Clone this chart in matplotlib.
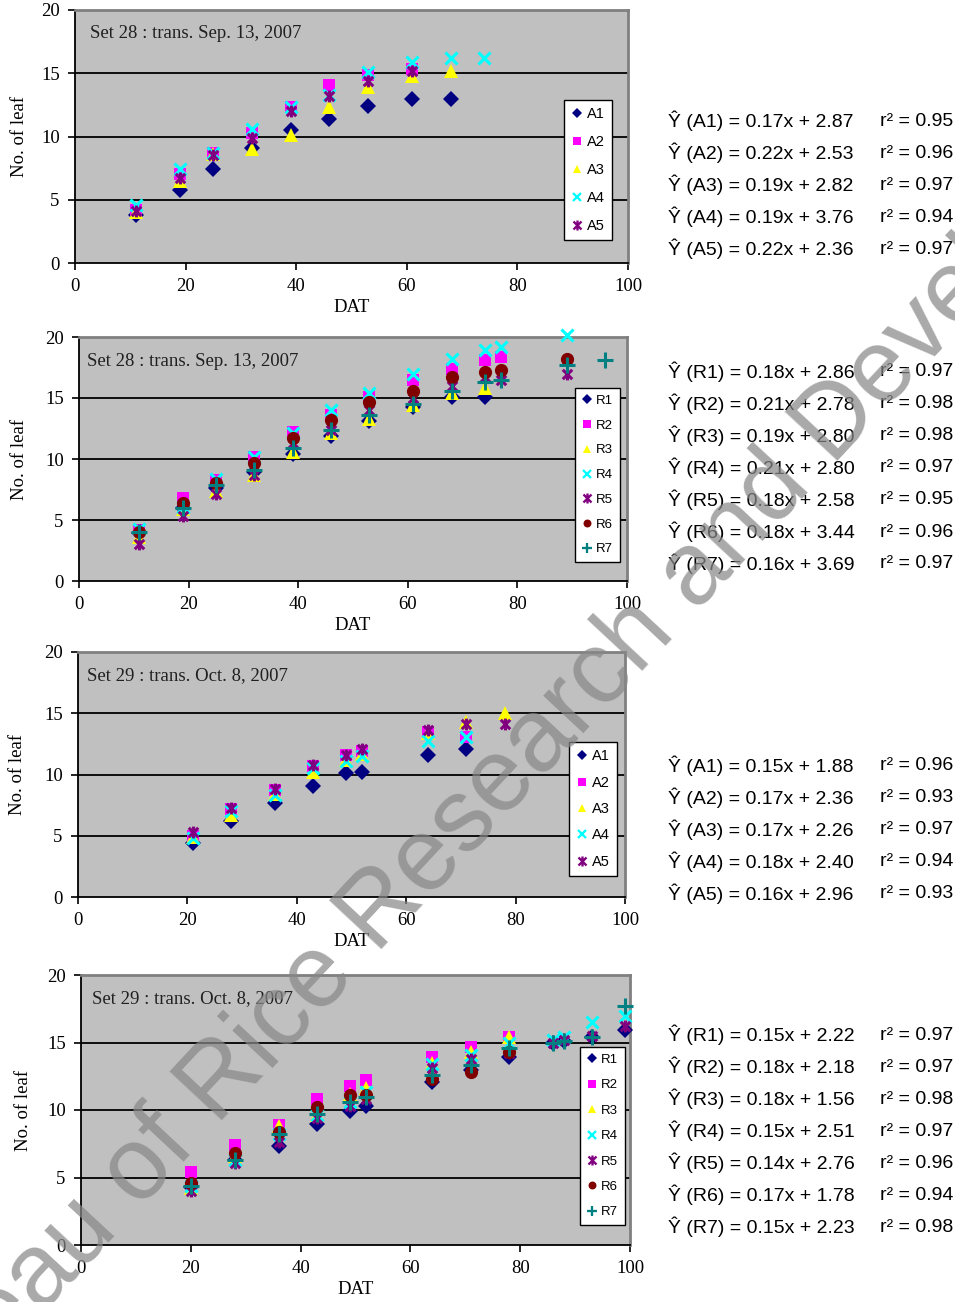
import numpy as np
import matplotlib
matplotlib.use('Agg')
import matplotlib.pyplot as plt
from matplotlib.path import Path
from matplotlib.lines import Line2D

nan = np.nan

## The Data ..
# Set 28, A series
s28a_x = [11, 19, 25, 32, 39, 46, 53, 61, 68, 74]
s28a_A1 = [3.8, 5.8, 7.4, 9.1, 10.5, 11.4, 12.4, 13.0, 13.0, nan]
s28a_A2 = [4.2, 7.0, 8.7, 10.3, 12.3, 14.1, 14.9, 15.3, nan, nan]
s28a_A3 = [4.0, 6.5, 8.6, 9.0, 10.1, 12.3, 13.9, 14.8, 15.2, nan]
s28a_A4 = [4.6, 7.4, 8.7, 10.6, 12.3, 13.3, 15.1, 15.9, 16.2, 16.2]
s28a_A5 = [4.1, 6.7, 8.5, 9.9, 12.0, 13.2, 14.4, 15.2, nan, nan]

# Set 28, R series
s28r_x = [11, 19, 25, 32, 39, 46, 53, 61, 68, 74, 77, 89, 96]
s28r_R1 = [3.9, 6.0, 7.6, 8.9, 10.4, 11.9, 13.1, 14.3, 15.1, 15.1, nan, nan, nan]
s28r_R2 = [4.2, 6.8, 8.3, 10.2, 12.2, 13.6, 15.1, 16.5, 17.4, 18.1, 18.4, nan, nan]
s28r_R3 = [3.6, 5.9, 7.4, 8.7, 10.6, 12.1, 13.3, 14.4, 15.4, 15.8, nan, nan, nan]
s28r_R4 = [4.3, 6.1, 8.4, 10.2, 12.1, 14.0, 15.4, 17.0, 18.2, 18.9, 19.2, 20.2, nan]
s28r_R5 = [3.0, 5.3, 7.1, 8.7, 11.3, 12.4, 14.0, 15.0, 16.0, 16.7, 16.5, 17.0, nan]
s28r_R6 = [4.0, 6.4, 8.0, 9.7, 11.7, 13.2, 14.7, 15.6, 16.7, 17.1, 17.3, 18.2, nan]
s28r_R7 = [4.0, 6.0, 7.9, 9.1, 10.9, 12.4, 13.6, 14.5, 15.6, 16.3, 16.5, 17.7, 18.1]

# Set 29, A series
s29a_x = [21, 28, 36, 43, 49, 52, 64, 71, 78]
s29a_A1 = [4.4, 6.2, 7.7, 9.1, 10.1, 10.2, 11.6, 12.1, nan]
s29a_A2 = [5.0, 7.2, 8.7, 10.7, 11.6, 11.9, 13.5, 13.1, nan]
s29a_A3 = [4.9, 6.7, 8.4, 10.2, 11.2, 11.7, 13.4, 14.3, 15.0]
s29a_A4 = [4.8, 7.0, 8.3, 10.5, 11.1, 11.5, 12.7, 13.1, nan]
s29a_A5 = [5.3, 7.3, 8.8, 10.8, 11.6, 12.1, 13.6, 14.1, 14.1]

# Set 29, R series
s29r_x = [20, 28, 36, 43, 49, 52, 64, 71, 78, 86, 88, 93, 99]
s29r_R1 = [4.3, 6.3, 7.3, 9.0, 9.9, 10.3, 12.1, 13.0, 13.9, 15.0, 15.1, 15.4, 15.9]
s29r_R2 = [5.4, 7.4, 8.9, 10.8, 11.8, 12.2, 13.9, 14.7, 15.4, nan, nan, nan, nan]
s29r_R3 = [4.2, 6.6, 8.8, 9.6, 11.2, 11.6, 13.5, 14.3, 15.4, nan, nan, nan, nan]
s29r_R4 = [4.4, 6.3, 8.2, 9.6, 10.6, 11.3, 13.4, 14.1, 15.0, 15.2, 15.4, 16.5, 17.0]
s29r_R5 = [4.0, 6.1, 7.6, 9.4, 10.3, 10.8, 13.1, 13.8, 14.2, 15.0, 15.2, 15.5, 16.2]
s29r_R6 = [4.6, 6.8, 8.4, 10.2, 11.1, 11.1, 12.3, 12.8, 14.3, nan, nan, nan, nan]
s29r_R7 = [4.4, 6.3, 8.2, 9.7, 10.6, 11.0, 12.6, 13.3, 14.6, 15.0, 15.1, 15.4, 17.7]

titles = ['Set 28 : trans. Sep. 13, 2007', 'Set 28 : trans. Sep. 13, 2007',
          'Set 29 : trans. Oct. 8, 2007', 'Set 29 : trans. Oct. 8, 2007']

eq_28a = ['(A1) = 0.17x + 2.87', '(A2) = 0.22x + 2.53', '(A3) = 0.19x + 2.82',
          '(A4) = 0.19x + 3.76', '(A5) = 0.22x + 2.36']
r2_28a = ['0.95', '0.96', '0.97', '0.94', '0.97']
eq_28r = ['(R1) = 0.18x + 2.86', '(R2) = 0.21x + 2.78', '(R3) = 0.19x + 2.80',
          '(R4) = 0.21x + 2.80', '(R5) = 0.18x + 2.58', '(R6) = 0.18x + 3.44',
          '(R7) = 0.16x + 3.69']
r2_28r = ['0.97', '0.98', '0.98', '0.97', '0.95', '0.96', '0.97']
eq_29a = ['(A1) = 0.15x + 1.88', '(A2) = 0.17x + 2.36', '(A3) = 0.17x + 2.26',
          '(A4) = 0.18x + 2.40', '(A5) = 0.16x + 2.96']
r2_29a = ['0.96', '0.93', '0.97', '0.94', '0.93']
eq_29r = ['(R1) = 0.15x + 2.22', '(R2) = 0.18x + 2.18', '(R3) = 0.18x + 1.56',
          '(R4) = 0.15x + 2.51', '(R5) = 0.14x + 2.76', '(R6) = 0.17x + 1.78',
          '(R7) = 0.15x + 2.23']
r2_29r = ['0.97', '0.97', '0.98', '0.97', '0.96', '0.94', '0.98']

## Styles
star = Path([(-1, -1), (1, 1), (-1, 1), (1, -1), (0, -1.25), (0, 1.25)],
            [Path.MOVETO, Path.LINETO] * 3)
styles = [
    dict(marker='D', color='#000080', ms=8.5, mew=0, lg=0.6),
    dict(marker='s', color='#ff00ff', ms=8.5, mew=0, lg=0.6),
    dict(marker='^', color='#ffff00', ms=10, mew=0, lg=0.6),
    dict(marker='x', color='#00ffff', ms=9, mew=2.2, lg=0.65),
    dict(marker=star, color='#800080', ms=8.5, mew=2.2, mfc='none', lg=0.85),
    dict(marker='o', color='#800000', ms=9.5, mew=0, lg=0.6),
    dict(marker='+', color='#008080', ms=11, mew=2.2, lg=0.65),
]

panels = [
    dict(x=s28a_x, ys=[s28a_A1, s28a_A2, s28a_A3, s28a_A4, s28a_A5], pre='A',
         box=(75, 10, 628, 263), leg=(612, 100), legfs=10.5, legsp=0.95,
         eq=eq_28a, r2=r2_28a, eq_y=121, tx=90, ylx=20),
    dict(x=s28r_x, ys=[s28r_R1, s28r_R2, s28r_R3, s28r_R4, s28r_R5, s28r_R6, s28r_R7], pre='R',
         box=(79, 337, 627, 581), leg=(620, 388), legfs=9.5, legsp=0.95,
         eq=eq_28r, r2=r2_28r, eq_y=372, tx=87, ylx=20),
    dict(x=s29a_x, ys=[s29a_A1, s29a_A2, s29a_A3, s29a_A4, s29a_A5], pre='A',
         box=(78, 652, 625, 897), leg=(617, 742), legfs=10.5, legsp=0.85,
         eq=eq_29a, r2=r2_29a, eq_y=766, tx=87, ylx=18),
    dict(x=s29r_x, ys=[s29r_R1, s29r_R2, s29r_R3, s29r_R4, s29r_R5, s29r_R6, s29r_R7], pre='R',
         box=(81, 975, 630, 1245), leg=(625, 1047), legfs=9.5, legsp=1.0,
         eq=eq_29r, r2=r2_29r, eq_y=1035, tx=92, ylx=24),
]

W, H = 955, 1302
fig = plt.figure(figsize=(W / 100, H / 100), dpi=100)
serif = 'Liberation Serif'
sans = 'Liberation Sans'

for i, p in enumerate(panels):
    x0, y0, x1, y1 = p['box']
    ax = fig.add_axes([x0 / W, 1 - y1 / H, (x1 - x0) / W, (y1 - y0) / H])
    ax.set_facecolor('#c0c0c0')
    ax.set_xlim(0, 100)
    ax.set_ylim(0, 20)
    for v in [5, 10, 15]:
        ax.axhline(v, color='black', lw=1.3, zorder=1)
    handles = []
    for k, yv in enumerate(p['ys']):
        st = styles[k]
        ax.plot(p['x'], yv, ls='none', marker=st['marker'], color=st['color'],
                ms=st['ms'], mew=st['mew'], mfc=st.get('mfc', st['color']),
                clip_on=False, zorder=3 + k)
        handles.append(Line2D([], [], ls='none', marker=st['marker'], color=st['color'],
                              ms=st['ms'] * st['lg'], mew=st['mew'] * 0.75,
                              mfc=st.get('mfc', st['color']), label=p['pre'] + str(k + 1)))
    for s in ['top', 'right']:
        ax.spines[s].set_color('#808080')
        ax.spines[s].set_linewidth(2)
    for s in ['left', 'bottom']:
        ax.spines[s].set_color('black')
        ax.spines[s].set_linewidth(1.3)
    ax.set_xticks([0, 20, 40, 60, 80, 100])
    ax.set_yticks([0, 5, 10, 15, 20])
    ax.tick_params(direction='out', length=5, width=1.2, pad=6, labelsize=13.5)
    for lab in ax.get_xticklabels() + ax.get_yticklabels():
        lab.set_fontfamily(serif)
    ax.set_xlabel('DAT', fontsize=13.5, fontfamily=serif)
    ax.set_ylabel('No. of leaf', fontsize=13.5, fontfamily=serif)
    ax.xaxis.set_label_coords(0.5, -36 / (y1 - y0))
    ax.yaxis.set_label_coords(-(x0 - p['ylx'] - 8) / (x1 - x0), 0.5)
    ax.text((p['tx'] - x0) / (x1 - x0), 1 - 24 / (y1 - y0), titles[i], transform=ax.transAxes,
            fontsize=13.5, fontfamily=serif, va='center', ha='left', color='#202020')

    lx, ly = p['leg']
    leg = ax.legend(handles=handles, loc='upper right',
                    bbox_to_anchor=((lx - x0) / (x1 - x0), (y1 - ly) / (y1 - y0)),
                    borderaxespad=0, fancybox=False, framealpha=1, edgecolor='black',
                    handlelength=0.8, handletextpad=0.3, labelspacing=p['legsp'],
                    borderpad=0.5, prop={'family': sans, 'size': p['legfs']})
    leg.get_frame().set_linewidth(1.0)
    leg.set_zorder(20)

    for j, (e, r) in enumerate(zip(p['eq'], p['r2'])):
        yy = 1 - (p['eq_y'] + 32 * j) / H
        fig.text(668 / W, yy, '\u0176 ' + e, fontsize=14, fontfamily=sans, va='center', ha='left')
        fig.text(880 / W, yy, 'r\u00b2 = ' + r, fontsize=14, fontfamily=sans, va='center', ha='left')

# watermark
fig.text(550 / W, 1 - 730 / H, 'Bureau of Rice Research and Development',
         fontsize=74, fontfamily=sans, color='#888888', alpha=0.72,
         rotation=47, rotation_mode='anchor', ha='center', va='center', zorder=50)

plt.savefig('out.png', dpi=100)
